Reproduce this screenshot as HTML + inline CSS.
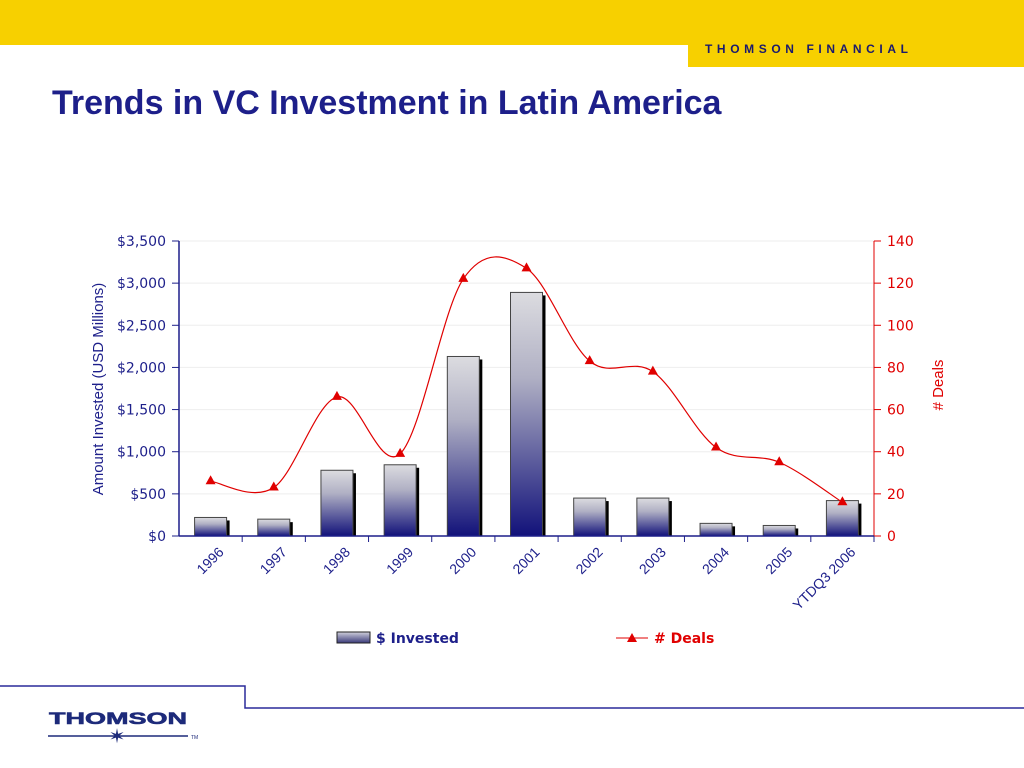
<!DOCTYPE html>
<html><head><meta charset="utf-8"><style>
body{margin:0;width:1024px;height:768px;overflow:hidden;background:#fff;font-family:"Liberation Sans",sans-serif;position:relative}
</style></head><body>
<div style="position:absolute;left:0;top:0;width:1024px;height:45px;background:#f7d000"></div>
<div style="position:absolute;left:688px;top:0;width:336px;height:67px;background:#f7d000"></div>
<div style="position:absolute;left:705px;top:42px;font-size:12px;font-weight:bold;letter-spacing:4.6px;color:#1a1a6e">THOMSON FINANCIAL</div>
<div style="position:absolute;left:52px;top:84px;font-size:34px;font-weight:bold;color:#1d1f8a">Trends in VC Investment in Latin America</div>
<svg id="chart" width="1024" height="768" style="position:absolute;left:0;top:0">
<defs><linearGradient id="g" x1="0" y1="0" x2="0" y2="1"><stop offset="0" stop-color="#dcdce0"/><stop offset="0.35" stop-color="#b0b0c4"/><stop offset="1" stop-color="#12127a"/></linearGradient>
<linearGradient id="lg" x1="0" y1="0" x2="0" y2="1"><stop offset="0" stop-color="#d0d0dc"/><stop offset="1" stop-color="#3a3a7a"/></linearGradient></defs>
<g id="grid"></g><g id="bars"></g><g id="axes"></g><g id="line"></g>
<text transform="translate(103,389) rotate(-90)" text-anchor="middle" font-size="15" fill="#1d1f8a">Amount Invested (USD Millions)</text>
<text transform="translate(943,385) rotate(-90)" text-anchor="middle" font-size="15" fill="#e00000"># Deals</text>
<g><rect x="337" y="632" width="33" height="11" fill="url(#lg)" stroke="#222"/><text x="376" y="643" font-size="14" font-weight="bold" fill="#1d1f8a" font-family="DejaVu Sans, sans-serif">$ Invested</text></g>
<g><line x1="616" y1="638" x2="648" y2="638" stroke="#e00000"/><polygon points="632,633 627,642 637,642" fill="#e00000"/><text x="654" y="643" font-size="14" font-weight="bold" fill="#e00000" font-family="DejaVu Sans, sans-serif"># Deals</text></g>
<polyline points="0,686 245,686 245,708 1024,708" fill="none" stroke="#2a2a9a" stroke-width="1.5"/>
<text x="49" y="724" font-size="17" font-weight="bold" fill="#1d2a7a" font-family="Liberation Sans, sans-serif" textLength="138" lengthAdjust="spacingAndGlyphs" stroke="#1d2a7a" stroke-width="0.6">THOMSON</text>
<line x1="48" y1="736" x2="188" y2="736" stroke="#1d2a7a" stroke-width="1.5"/>
<text x="117" y="743" text-anchor="middle" font-size="20" fill="#1d2a7a">✶</text>
<text x="191" y="739" font-size="5" fill="#1d2a7a">TM</text>
</svg>
<script>
const categories=["1996","1997","1998","1999","2000","2001","2002","2003","2004","2005","YTDQ3 2006"];
const invested=[220,200,780,845,2130,2890,450,450,150,125,420];
const deals=[26,23,66,39,122,127,83,78,42,35,16];
const leftTicks=[0,500,1000,1500,2000,2500,3000,3500];
const rightTicks=[0,20,40,60,80,100,120,140];
const X0=179,X1=874,Y0=536,Y1=241;
const bw=(X1-X0)/categories.length;
const xc=i=>X0+bw*(i+0.5);
const yL=v=>Y0-(v/3500)*(Y0-Y1);
const yR=v=>Y0-(v/140)*(Y0-Y1);
const NS="http://www.w3.org/2000/svg";
function mk(t,a,p){const e=document.createElementNS(NS,t);for(const k in a)e.setAttribute(k,a[k]);p.appendChild(e);return e;}
const grid=document.getElementById('grid'),bars=document.getElementById('bars'),axes=document.getElementById('axes'),line=document.getElementById('line');
leftTicks.forEach(v=>{const y=yL(v);
 if(v>0)mk('line',{x1:X0,x2:X1,y1:y,y2:y,stroke:'#eeeeee'},grid);
 mk('line',{x1:X0-7,x2:X0,y1:y,y2:y,stroke:'#1d1f8a'},axes);
 const t=mk('text',{x:X0-13,y:y+5,'text-anchor':'end','font-size':14,fill:'#1d1f8a','font-family':'DejaVu Sans, sans-serif'},axes);
 
 
 t.textContent='$'+v.toLocaleString('en-US');});
rightTicks.forEach(v=>{const y=yR(v);
 mk('line',{x1:X1,x2:X1+7,y1:y,y2:y,stroke:'#e00000'},axes);
 const t=mk('text',{x:X1+13,y:y+5,'font-size':14,fill:'#e00000','font-family':'DejaVu Sans, sans-serif'},axes);
 
 
 t.textContent=v;});
mk('line',{x1:X0,x2:X0,y1:Y1,y2:Y0,stroke:'#1d1f8a','stroke-width':1.5},axes);
mk('line',{x1:X1,x2:X1,y1:Y1,y2:Y0,stroke:'#e00000'},axes);
mk('line',{x1:X0,x2:X1,y1:Y0,y2:Y0,stroke:'#1d1f8a','stroke-width':1.5},axes);
categories.forEach((c,i)=>{
 const x=X0+bw*(i+1);
 mk('line',{x1:x,x2:x,y1:Y0,y2:Y0+6,stroke:'#1d1f8a'},axes);
 const cx=xc(i),y=yL(invested[i]),w=32;
 mk('rect',{x:cx-w/2+3,y:y+3,width:w,height:Y0-y-3,fill:'#000'},bars);
 const r=mk('rect',{x:cx-w/2,y:y,width:w,height:Y0-y,fill:'url(#g)',stroke:'#444','stroke-width':1},bars);
 
 
 const t=mk('text',{transform:`translate(${cx+14},${Y0+17}) rotate(-45)`,'text-anchor':'end','font-size':14,fill:'#1d1f8a'},axes);
 
 
 t.textContent=c;});
const pts=deals.map((d,i)=>[xc(i),yR(d)]);
let d='M'+pts[0][0]+','+pts[0][1];
for(let i=0;i<pts.length-1;i++){const p0=pts[Math.max(0,i-1)],p1=pts[i],p2=pts[i+1],p3=pts[Math.min(pts.length-1,i+2)];
 d+=` C${p1[0]+(p2[0]-p0[0])/6},${p1[1]+(p2[1]-p0[1])/6} ${p2[0]-(p3[0]-p1[0])/6},${p2[1]-(p3[1]-p1[1])/6} ${p2[0]},${p2[1]}`;}
const pl=mk('path',{d:d,fill:'none',stroke:'#e00000','stroke-width':1.2},line);


pts.forEach(p=>{const m=mk('polygon',{points:`${p[0]},${p[1]-6} ${p[0]-5},${p[1]+3} ${p[0]+5},${p[1]+3}`,fill:'#e00000'},line);
 
 });
</script>
</body></html>
